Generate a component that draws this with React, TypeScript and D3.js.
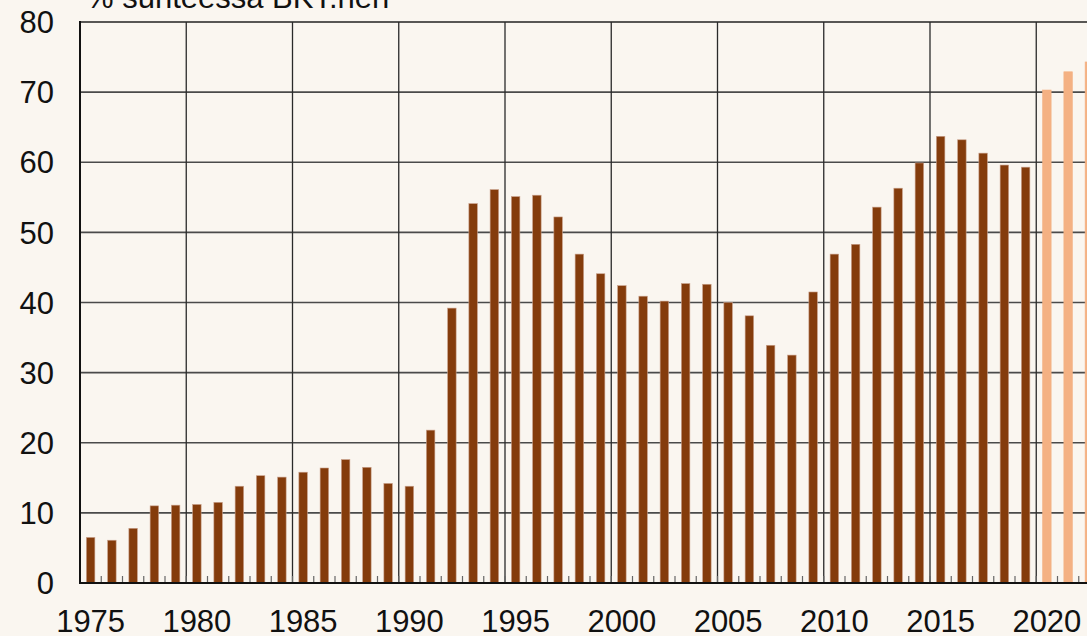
import React, { useEffect, useRef } from "react";
import * as d3 from "d3";

const years: number[] = d3.range(1975, 2023);
const values: number[] = [
  6.5, 6.1, 7.8, 11.0, 11.1, 11.2, 11.5, 13.8, 15.3, 15.1,
  15.8, 16.4, 17.6, 16.5, 14.2, 13.8, 21.8, 39.2, 54.1, 56.1,
  55.1, 55.3, 52.2, 46.9, 44.1, 42.4, 40.9, 40.2, 42.7, 42.6,
  40.0, 38.1, 33.9, 32.5, 41.5, 46.9, 48.3, 53.6, 56.3, 59.9,
  63.7, 63.2, 61.3, 59.6, 59.3, 70.3, 72.9, 74.3,
];
const forecastFrom = 2020;
const yTicks: number[] = [0, 10, 20, 30, 40, 50, 60, 70, 80];
const xLabelYears: number[] = [1975, 1980, 1985, 1990, 1995, 2000, 2005, 2010, 2015, 2020];
const title = "% suhteessa BKT:hen";

const W = 1087;
const H = 636;
const BG = "#FAF6F0";
const DARK = "#843C0C";
const LIGHT = "#F4B183";
const FONT = "'Liberation Sans', Arial, sans-serif";

export default function App() {
  const ref = useRef<SVGSVGElement>(null);

  useEffect(() => {
    document.body.style.margin = "0";
    const svg = d3.select(ref.current);
    svg.selectAll("*").remove();

    const left = 80;
    const top = 22;
    const bottom = 583;
    const bandW = 21.25;
    const right = left + years.length * bandW;

    const x = d3
      .scaleBand<number>()
      .domain(years)
      .range([left, right])
      .paddingInner(0)
      .paddingOuter(0);
    const y = d3.scaleLinear().domain([0, 80]).range([bottom, top]);

    svg.append("rect").attr("width", W).attr("height", H).attr("fill", BG);

    // horizontal gridlines
    svg
      .append("g")
      .selectAll("line")
      .data(yTicks.filter((t) => t > 0 && t < 80))
      .join("line")
      .attr("x1", left)
      .attr("x2", right)
      .attr("y1", (d) => y(d))
      .attr("y2", (d) => y(d))
      .attr("stroke", "#4a4a4a")
      .attr("stroke-width", 1.6);

    // top line
    svg
      .append("line")
      .attr("x1", left)
      .attr("x2", right)
      .attr("y1", y(80))
      .attr("y2", y(80))
      .attr("stroke", "#222")
      .attr("stroke-width", 1.6);

    // vertical gridlines at 5-year boundaries
    svg
      .append("g")
      .selectAll("line")
      .data(xLabelYears.filter((yr) => yr > 1975))
      .join("line")
      .attr("x1", (d) => x(d) as number)
      .attr("x2", (d) => x(d) as number)
      .attr("y1", top)
      .attr("y2", bottom)
      .attr("stroke", "#2a2a2a")
      .attr("stroke-width", 1.3);

    // minor ticks at band boundaries
    svg
      .append("g")
      .selectAll("line")
      .data(years.slice(1))
      .join("line")
      .attr("x1", (d) => x(d) as number)
      .attr("x2", (d) => x(d) as number)
      .attr("y1", bottom - 7)
      .attr("y2", bottom)
      .attr("stroke", "#666")
      .attr("stroke-width", 1.2);

    // bars
    const barW = 8.5;
    svg
      .append("g")
      .selectAll("rect")
      .data(years.map((yr, i) => ({ yr, v: values[i] })))
      .join("rect")
      .attr("x", (d) => (x(d.yr) as number) + x.bandwidth() / 2 - barW / 2)
      .attr("width", barW)
      .attr("y", (d) => y(d.v))
      .attr("height", (d) => y(0) - y(d.v))
      .attr("fill", (d) => (d.yr >= forecastFrom ? LIGHT : DARK))
      .attr("stroke", (d) => (d.yr >= forecastFrom ? LIGHT : "#C9A08A"))
      .attr("stroke-width", 0.6);

    // axes lines
    svg
      .append("line")
      .attr("x1", left)
      .attr("x2", left)
      .attr("y1", top - 1)
      .attr("y2", bottom + 1)
      .attr("stroke", "#111")
      .attr("stroke-width", 2);
    svg
      .append("line")
      .attr("x1", left)
      .attr("x2", right)
      .attr("y1", bottom)
      .attr("y2", bottom)
      .attr("stroke", "#111")
      .attr("stroke-width", 2);

    // y labels
    svg
      .append("g")
      .selectAll("text")
      .data(yTicks)
      .join("text")
      .attr("x", 54)
      .attr("y", (d) => y(d))
      .attr("dy", "0.36em")
      .attr("text-anchor", "end")
      .attr("font-family", FONT)
      .attr("font-size", 31)
      .attr("fill", "#111")
      .text((d) => String(d));

    // x labels
    svg
      .append("g")
      .selectAll("text")
      .data(xLabelYears)
      .join("text")
      .attr("x", (d) => (x(d) as number) + x.bandwidth() / 2)
      .attr("y", 632)
      .attr("text-anchor", "middle")
      .attr("font-family", FONT)
      .attr("font-size", 31)
      .attr("fill", "#111")
      .text((d) => String(d));

    // title
    svg
      .append("text")
      .attr("x", 86)
      .attr("y", 8)
      .attr("font-family", FONT)
      .attr("font-size", 31)
      .attr("fill", "#111")
      .text(title);
  }, []);

  return (
    <svg
      ref={ref}
      width={W}
      height={H}
      style={{ position: "absolute", left: 0, top: 0, display: "block" }}
    />
  );
}
